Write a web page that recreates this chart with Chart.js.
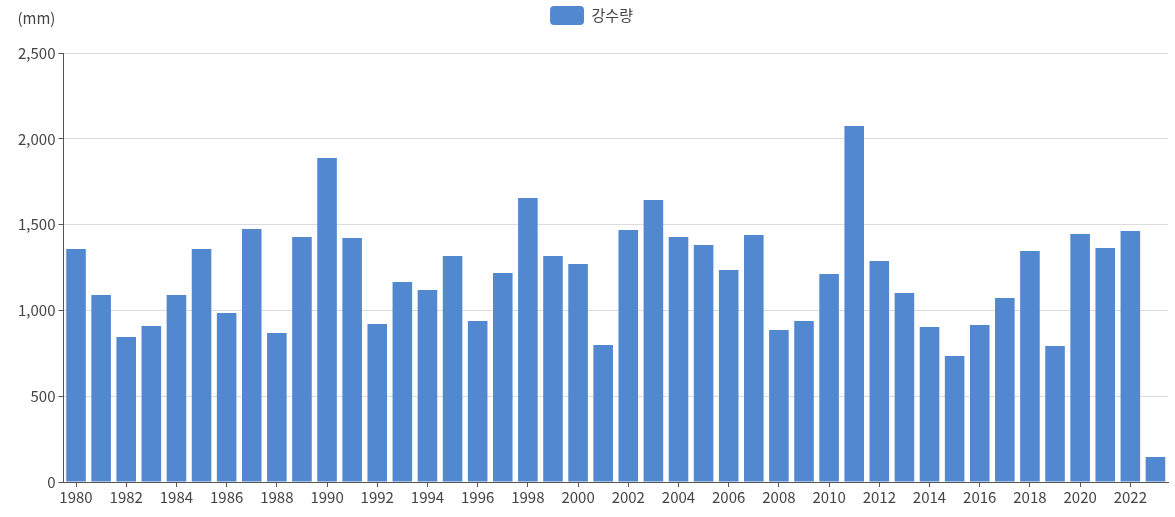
<!DOCTYPE html>
<html>
<head>
<meta charset="utf-8">
<script src="https://cdn.jsdelivr.net/npm/chart.js@4.4.1/dist/chart.umd.min.js"></script>
<style>
  html, body { margin: 0; padding: 0; background: #fff; }
  #wrap { width: 1175px; height: 517px; }
</style>
</head>
<body>
<div id="wrap"><canvas id="Rain"></canvas></div>
<script>
const Years = [];
for (let y = 1980; y <= 2023; y++) Years.push(String(y));

const Rainfall = [
    1358, 1090, 845, 909, 1090, 1358, 985, 1474, 868, 1428,
    1888, 1422, 921, 1165, 1119, 1317, 938, 1218, 1655, 1317,
    1270, 798, 1469, 1643, 1428, 1381, 1235, 1439, 886, 938,
    1212, 2075, 1288, 1101, 903, 734, 915, 1072, 1346, 793,
    1445, 1364, 1463, 146
];

const SeriesName = '강수량';
const UnitLabel = '(mm)';

const fontFamily = "'Noto Sans CJK KR', 'Noto Sans', sans-serif";

// draws the unit text above the y axis
const unitPlugin = {
    id: 'unitLabel',
    afterDraw(chart) {
        const ctx = chart.ctx;
        const y = chart.scales.y;
        ctx.save();
        ctx.font = '15px ' + fontFamily;
        ctx.fillStyle = '#444';
        ctx.textAlign = 'center';
        ctx.textBaseline = 'middle';
        ctx.fillText(UnitLabel, y.right - 27, 18);
        ctx.restore();
    }
};

// a bit more room under the legend
const legendGap = {
    id: 'legendGap',
    beforeInit(chart) {
        const fit = chart.legend.fit;
        chart.legend.fit = function () {
            fit.bind(chart.legend)();
            this.height += 18;
        };
    }
};

new Chart(document.getElementById('Rain'), {
    type: 'bar',
    data: {
        labels: Years,
        datasets: [
            {
                label: SeriesName,
                data: Rainfall,
                backgroundColor: '#5288cf',
                borderWidth: 0,
                barPercentage: 0.78,
                categoryPercentage: 1.0
            }
        ]
    },
    options: {
        responsive: true,
        maintainAspectRatio: false,
        animation: false,
        locale: 'en-US',
        devicePixelRatio: 1,
        layout: {
            padding: { left: 15, right: 7, top: 0, bottom: 10 }
        },
        scales: {
            x: {
                grid: {
                    offset: false,
                    drawOnChartArea: false,
                    tickLength: 5,
                    tickColor: '#555'
                },
                border: { color: '#555', width: 1 },
                ticks: {
                    autoSkip: false,
                    maxRotation: 0,
                    color: '#444',
                    font: { family: fontFamily, size: 15 },
                    padding: 1,
                    callback: function (value, index) {
                        return index % 2 === 0 ? this.getLabelForValue(value) : null;
                    }
                }
            },
            y: {
                min: 0,
                max: 2500,
                ticks: {
                    stepSize: 500,
                    color: '#444',
                    font: { family: fontFamily, size: 15 },
                    padding: 3
                },
                grid: {
                    color: '#dcdcdc',
                    tickLength: 5,
                    tickColor: '#555'
                },
                border: { color: '#555', width: 1 }
            }
        },
        plugins: {
            legend: {
                display: true,
                position: 'top',
                labels: {
                    boxWidth: 34,
                    boxHeight: 19,
                    useBorderRadius: true,
                    borderRadius: 4,
                    color: '#444',
                    font: { family: fontFamily, size: 15 },
                    padding: 6
                }
            },
            tooltip: { enabled: false }
        }
    },
    plugins: [unitPlugin, legendGap]
});
</script>
</body>
</html>
